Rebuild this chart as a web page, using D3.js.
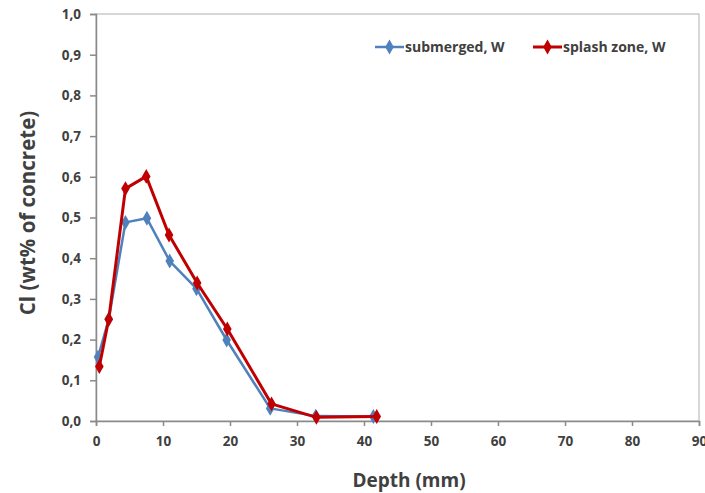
<!DOCTYPE html>
<html><head><meta charset="utf-8">
<script src="https://cdn.jsdelivr.net/npm/d3@7"></script>
<style>body{margin:0;background:#fff}svg{display:block}text{font-family:"Open Sans",sans-serif;font-weight:bold;fill:#404040}</style>
</head><body><svg id="c" width="705" height="493"></svg>
<script>
const subDepth = [0.3, 1.9, 4.4, 7.6, 11.0, 15.0, 19.5, 26.0, 32.8, 41.4];
const subCl    = [0.157, 0.25, 0.488, 0.498, 0.393, 0.325, 0.199, 0.031, 0.012, 0.011];
const splDepth = [0.5, 1.9, 4.4, 7.5, 10.9, 15.1, 19.6, 26.2, 32.9, 41.9];
const splCl    = [0.134, 0.25, 0.571, 0.601, 0.457, 0.339, 0.226, 0.042, 0.009, 0.011];
const xTicks = [0,10,20,30,40,50,60,70,80,90];
const yTicks = [0,0.1,0.2,0.3,0.4,0.5,0.6,0.7,0.8,0.9,1.0];
const seriesNames = ["submerged, W", "splash zone, W"];
const colors = ["#4F81BD", "#C00000"];

const svg = d3.select("#c");
const L=96, R=699, T=14, B=421;
const x = d3.scaleLinear().domain([0,90]).range([L,R]);
const y = d3.scaleLinear().domain([0,1]).range([B,T]);

svg.append("rect").attr("x",L).attr("y",T).attr("width",R-L).attr("height",B-T)
  .attr("fill","none").attr("stroke","#b0b0b0").attr("stroke-width",1);

const fmt = d => d3.format(".1f")(d).replace(".", ",");
const gy = svg.append("g").attr("transform",`translate(${L},0)`)
  .call(d3.axisLeft(y).tickValues(yTicks).tickFormat(fmt).tickSize(6).tickPadding(9));
const gx = svg.append("g").attr("transform",`translate(0,${B})`)
  .call(d3.axisBottom(x).tickValues(xTicks).tickFormat(d3.format("d")).tickSize(5).tickPadding(10));
[gx,gy].forEach(g=>{
  g.select(".domain").attr("stroke","#8a8a8a").attr("stroke-width",1.5);
  g.selectAll(".tick line").attr("stroke","#8a8a8a").attr("stroke-width",1.5);
  g.selectAll("text").attr("font-size",13.5).attr("font-family","'Open Sans', sans-serif").attr("font-weight","bold").attr("fill","#404040");
});

const data = [
  subDepth.map((d,i)=>[d, subCl[i]]),
  splDepth.map((d,i)=>[d, splCl[i]])
];
const line = d3.line().x(d=>x(d[0])).y(d=>y(d[1]));
const diamond = d3.symbol().type(d3.symbolDiamond).size(64);
data.forEach((s,k)=>{
  svg.append("path").datum(s).attr("d",line).attr("fill","none")
    .attr("stroke",colors[k]).attr("stroke-width",k?3:2.5).attr("stroke-linejoin","round");
  svg.append("g").selectAll("path").data(s).join("path")
    .attr("d",diamond).attr("transform",d=>`translate(${x(d[0])},${y(d[1])})`)
    .attr("fill",colors[k]);
});

const legX = [375, 533];
seriesNames.forEach((n,k)=>{
  const g = svg.append("g").attr("transform",`translate(${legX[k]},47)`);
  g.append("line").attr("x1",0).attr("x2",29).attr("stroke",colors[k]).attr("stroke-width",k?3:2.5);
  g.append("path").attr("d",diamond).attr("transform","translate(14.5,0)").attr("fill",colors[k]);
  g.append("text").attr("x",30).attr("y",5).attr("font-size",14).text(n);
});

svg.append("text").attr("x",409).attr("y",487).attr("text-anchor","middle")
  .attr("font-size",19).text("Depth (mm)");
svg.append("text").attr("transform","translate(35,213) rotate(-90)").attr("text-anchor","middle")
  .attr("font-size",20.5).text("Cl (wt% of concrete)");
</script></body></html>
